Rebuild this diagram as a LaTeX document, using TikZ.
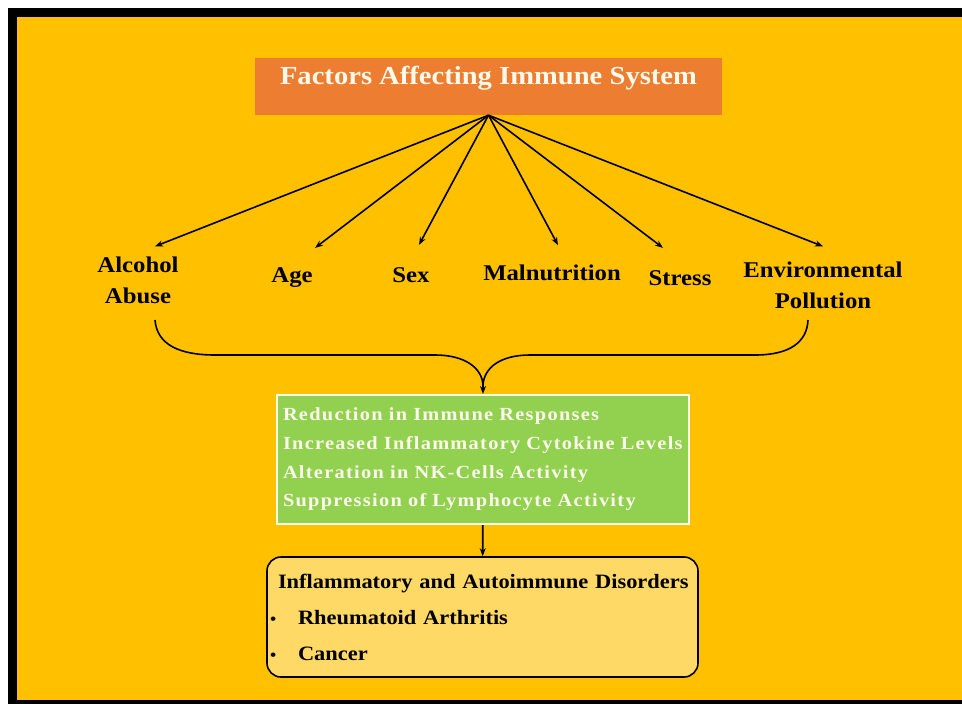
\documentclass[tikz,border=0pt]{standalone}
\usepackage{fontspec}
\setmainfont{Liberation Serif}[FakeStretch=1.1]
\newfontfamily\widefont{Liberation Serif}[FakeStretch=1.1, LetterSpace=7]
\usetikzlibrary{arrows.meta, positioning, calc}

\definecolor{bgyellow}{RGB}{255,192,0}
\definecolor{titleorange}{RGB}{237,125,49}
\definecolor{leafgreen}{RGB}{146,208,80}
\definecolor{paleyellow}{RGB}{255,217,102}
\definecolor{creamwhite}{RGB}{252,250,235}

\newcommand{\dotitem}{\makebox[28bp][l]{\fontsize{16bp}{16bp}\selectfont\textbullet}}

\begin{document}
\begin{tikzpicture}[
    x=1bp, y=1bp,
    >={Stealth[length=8bp, width=6bp]},
    factor/.style={font=\fontsize{22.5bp}{31bp}\selectfont\bfseries, align=center, inner sep=2bp},
    titlebox/.style={fill=titleorange, text=creamwhite, font=\fontsize{26bp}{30bp}\selectfont\bfseries, minimum width=467bp, inner sep=0pt, text height=27bp, text depth=30bp},
    effectbox/.style={fill=leafgreen, draw=creamwhite, line width=2bp, text=creamwhite, font=\widefont\fontsize{18.5bp}{28.7bp}\selectfont\bfseries, text width=400bp, align=left, minimum height=129bp, inner xsep=6bp},
    disorderbox/.style={fill=paleyellow, draw=black, line width=1.6bp, rounded corners=14bp, font=\fontsize{20.4bp}{36bp}\selectfont\bfseries, text width=425bp, align=left, minimum height=120bp, inner xsep=3bp},
    link/.style={->, line width=1.6bp}
]

% Frame and background
\fill[white] (0,0) rectangle (962,-704);
\fill[black] (8,-8) rectangle (962,-704);
\fill[bgyellow] (17,-17) rectangle (962,-700);

% Title
\node (Title) [titlebox, anchor=base] at (488.5,-85) {Factors Affecting Immune System};

% Factors
\node (Alc) [factor] at (138,-280) {Alcohol\\Abuse};
\node (Age) [factor, anchor=base] at (292,-282) {Age};
\node (Sex) [factor, anchor=base] at (411,-282) {Sex};
\node (Mal) [factor, anchor=base] at (552,-280) {Malnutrition};
\node (Str) [factor, anchor=base] at (680,-285) {Stress};
\node (Env) [factor] at (823,-285) {Environmental\\Pollution};

\draw[link] (Title.south) -- ([xshift=17bp, yshift=8bp]Alc.north);
\draw[link] (Title.south) -- ([xshift=23bp, yshift=17bp]Age.north);
\draw[link] (Title.south) -- ([xshift=8bp, yshift=20bp]Sex.north);
\draw[link] (Title.south) -- ([xshift=6bp, yshift=17bp]Mal.north);
\draw[link] (Title.south) -- ([xshift=-17bp, yshift=20bp]Str.north);
\draw[link] (Title.south) -- ([yshift=13bp]Env.north);

% Brace under the factors
\draw[line width=1.6bp] (155,-320) .. controls (157,-345) and (180,-355) .. (215,-355) -- (435,-355)
    .. controls (465,-355) and (482,-368) .. (483,-385)
    .. controls (484,-368) and (500,-355) .. (530,-355) -- (755,-355)
    .. controls (790,-355) and (807,-342) .. (808,-320);
\coordinate (Tip) at (483,-385);

% Effects
\node (Eff) [effectbox] at (483,-459.5) {Reduction in Immune Responses\\Increased Inflammatory Cytokine Levels\\Alteration in NK-Cells Activity\\Suppression of Lymphocyte Activity};
\draw[link] (Tip) -- (Eff);

% Disorders
\node (Dis) [disorderbox] at (482.5,-617) {\hspace*{8bp}Inflammatory and Autoimmune Disorders\\
    \dotitem Rheumatoid Arthritis\\
    \dotitem Cancer};
\draw[link] (Eff) -- (Dis);

\end{tikzpicture}
\end{document}
